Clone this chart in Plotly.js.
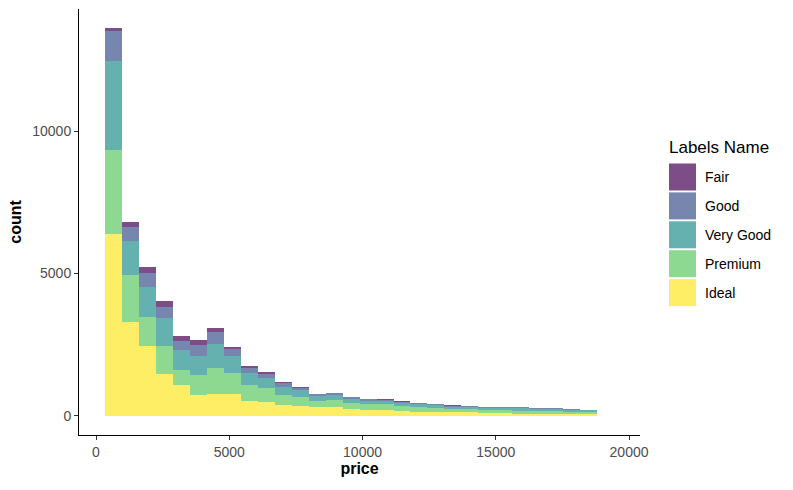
<!DOCTYPE html>
<html>
<head>
<meta charset="utf-8">
<script src="https://cdn.plot.ly/plotly-3.0.1.min.js"></script>
<style>
  html, body { margin: 0; padding: 0; background: #ffffff; }
  #chart { width: 793px; height: 490px; }
</style>
</head>
<body>
<div id="chart"></div>
<script>
// ---- Data (counts per price bin, stacked by cut) ----
const binStart = 318.9;     // first bin lower edge (price)
const binWidth = 637.83;    // bin width (price)
const cuts = ["Fair", "Good", "Very Good", "Premium", "Ideal"];

const fair    = [103, 176, 176, 211, 176, 176, 141, 71, 70, 71, 35, 35, 20, 20, 15, 15, 35, 35, 20, 10, 35, 10, 10, 24, 20, 10, 10, 10, 5];
const good    = [1056, 493, 493, 387, 317, 387, 423, 246, 176, 140, 141, 71, 50, 51, 56, 55, 35, 35, 16, 25, 35, 25, 25, 11, 15, 26, 26, 25, 5];
const veryGood= [3133, 1162, 1056, 986, 704, 669, 844, 598, 423, 352, 282, 246, 176, 176, 140, 106, 106, 106, 105, 105, 71, 71, 71, 71, 106, 70, 70, 70, 60];
const premium = [2957, 1654, 1021, 986, 528, 704, 916, 740, 563, 493, 352, 317, 211, 246, 212, 211, 211, 176, 176, 141, 105, 105, 105, 105, 106, 106, 106, 71, 71];
const ideal   = [6371, 3309, 2464, 1478, 1091, 739, 774, 774, 528, 493, 387, 352, 317, 317, 246, 211, 211, 176, 141, 141, 141, 141, 106, 106, 70, 70, 70, 70, 70];

const xTicks = [0, 5000, 10000, 15000, 20000];
const yTicks = [0, 5000, 10000];

// ---- Styling ----
const FONT = "Liberation Sans, Arial, sans-serif";
const colors = {
  "Fair": "#7C4D87",
  "Good": "#7686AE",
  "Very Good": "#64B1AF",
  "Premium": "#8ED992",
  "Ideal": "#FEEE66"
};
const seriesByCut = {
  "Fair": fair, "Good": good, "Very Good": veryGood, "Premium": premium, "Ideal": ideal
};

const centers = ideal.map((_, i) => binStart + binWidth * (i + 0.5));

// stack order: Ideal at bottom ... Fair on top
const stackOrder = ["Ideal", "Premium", "Very Good", "Good", "Fair"];
const traces = stackOrder.map(c => ({
  type: "bar",
  name: c,
  x: centers,
  y: seriesByCut[c],
  width: binWidth,
  marker: { color: colors[c], line: { width: 0 } },
  hoverinfo: "x+y+name",
  showlegend: false
}));

// plot area in pixels
const W = 793, H = 490;
const M = { l: 79, r: 153, t: 9, b: 55 };
const pw = W - M.l - M.r, ph = H - M.t - M.b;
const px2x = p => (p - M.l) / pw;
const py2y = p => (H - M.b - p) / ph;

// custom legend (ggplot-style keys)
const shapes = [];
const annotations = [];
annotations.push({
  xref: "paper", yref: "paper", x: px2x(667), y: py2y(147),
  xanchor: "left", yanchor: "middle", showarrow: false,
  text: "Labels Name", font: { family: FONT, size: 17, color: "#000000" }
});
const keyTop = 163.5, keyPitch = 28.9, keySize = 27;
cuts.forEach((c, i) => {
  const top = keyTop + i * keyPitch;
  shapes.push({
    type: "rect", xref: "paper", yref: "paper",
    x0: px2x(669), x1: px2x(669 + keySize),
    y0: py2y(top + keySize), y1: py2y(top),
    fillcolor: colors[c], line: { width: 0 }, layer: "above"
  });
  annotations.push({
    xref: "paper", yref: "paper", x: px2x(703), y: py2y(top + keySize / 2),
    xanchor: "left", yanchor: "middle", showarrow: false,
    text: c, font: { family: FONT, size: 14, color: "#000000" }
  });
});

const layout = {
  width: W, height: H,
  margin: M,
  paper_bgcolor: "#ffffff",
  plot_bgcolor: "#ffffff",
  barmode: "stack",
  bargap: 0,
  showlegend: false,
  font: { family: FONT, color: "#4D4D4D" },
  xaxis: {
    range: [-638, 20411],
    tickvals: xTicks,
    ticktext: xTicks.map(String),
    ticks: "outside", ticklen: 4, tickwidth: 1, tickcolor: "#333333",
    showline: true, linecolor: "#000000", linewidth: 1,
    showgrid: false, zeroline: false,
    tickfont: { size: 14, color: "#4D4D4D" },
    title: { text: "<b>price</b>", font: { size: 16, color: "#000000" }, standoff: 3 }
  },
  yaxis: {
    range: [-681, 14301],
    tickvals: yTicks,
    ticktext: yTicks.map(String),
    ticks: "outside", ticklen: 4, tickwidth: 1, tickcolor: "#333333",
    showline: true, linecolor: "#000000", linewidth: 1,
    showgrid: false, zeroline: false,
    tickfont: { size: 14, color: "#4D4D4D" },
    title: { text: "<b>count</b>", font: { size: 16, color: "#000000" }, standoff: 6 }
  },
  shapes: shapes,
  annotations: annotations
};

Plotly.newPlot("chart", traces, layout, { displayModeBar: false, staticPlot: true });
</script>
</body>
</html>
